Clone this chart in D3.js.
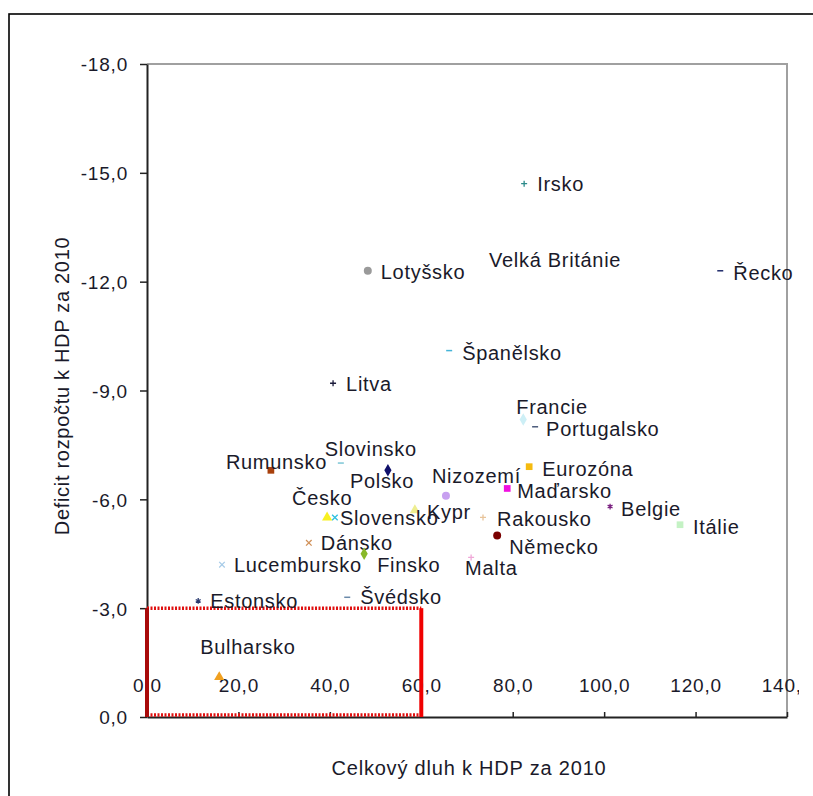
<!DOCTYPE html>
<html>
<head>
<meta charset="utf-8">
<script src="https://cdn.jsdelivr.net/npm/d3@7"></script>
<style>
  body { margin: 0; background: #fff; }
  text { font-family: "Liberation Sans", Arial, sans-serif; fill: #1a1a2a; }
</style>
</head>
<body>
<div id="chart"></div>
<script>
// countries, debt (x) and budget balance (y)
var countries = ["Irsko", "Velká Británie", "Řecko", "Lotyšsko", "Španělsko", "Litva",
  "Francie", "Portugalsko", "Eurozóna", "Maďarsko", "Nizozemí", "Belgie", "Itálie",
  "Kypr", "Rakousko", "Německo", "Malta", "Rumunsko", "Slovinsko", "Polsko", "Česko",
  "Slovensko", "Dánsko", "Finsko", "Lucembursko", "Estonsko", "Švédsko", "Bulharsko"];
var debt = [82.5, 72.2, 125.4, 48.3, 66.1, 40.7,
  82.3, 84.9, 83.6, 78.8, 65.4, 101.3, 116.6,
  58.6, 73.5, 76.6, 70.9, 27.1, 42.4, 52.7, 39.4,
  41.1, 35.4, 47.5, 16.4, 11.2, 43.8, 15.8];
var deficit = [-14.7, -12.6, -12.3, -12.3, -10.1, -9.2,
  -8.2, -8.0, -6.9, -6.3, -6.1, -5.8, -5.3,
  -5.7, -5.5, -5.0, -4.4, -6.8, -7.0, -6.8, -5.5,
  -5.5, -4.8, -4.5, -4.2, -3.2, -3.3, -1.1];

var xTicks = [0, 20, 40, 60, 80, 100, 120, 140];
var yTicks = [0, -3, -6, -9, -12, -15, -18];

// marker look for each country
var shapes = ["plus", "none", "dash", "circle", "dash", "plus",
  "diamond", "dash", "square", "square", "circle", "star", "square",
  "triangle", "plus", "circle", "plus", "square", "dash", "diamond", "triangle",
  "cross", "cross", "diamond", "cross", "star", "dash", "triangle"];
var colors = ["#2a8a8a", "#ffffff", "#1f2a6a", "#9a9a9a", "#45b4d8", "#1a1a3a",
  "#cdeff6", "#4a5a7a", "#f5bb10", "#f010e0", "#c8a0f0", "#7a2080", "#c4f2c4",
  "#eeee90", "#e8c49a", "#7a0000", "#f0a8d8", "#a8400c", "#7cc6d6", "#10106a", "#f8f020",
  "#30c0e0", "#d09058", "#88b828", "#a8cce8", "#2a3a70", "#6a8aaa", "#f0a020"];

// label offsets from the marker (px), default is to the right
var labelDx = [13, 12, 13, 13, 13, 13,
  -7, 11, 13, 10, -14, 11, 13,
  12, 14, 12, -6, -45, -16, -38, -35,
  5, 12, 13, 12, 12, 13, -19];
var labelDy = [0, 0, 2, 1, 2, 1,
  -13, 2, 2, 2, -20, 2, 2,
  2, 1, 11, 10, -9, -14, 11, -20,
  0, 0, 11, 0, 0, 0, -30];

var width = 813, height = 796;
var plotL = 147, plotR = 787, plotT = 64, plotB = 717;

var svg = d3.select("#chart").append("svg")
  .attr("width", width)
  .attr("height", height);

// outer frame, runs past the right and bottom edge
svg.append("rect")
  .attr("x", 9).attr("y", 14)
  .attr("width", 820).attr("height", 800)
  .attr("fill", "none").attr("stroke", "#000").attr("stroke-width", 1.6);

var xScale = d3.scaleLinear().domain([0, 140]).range([plotL, plotR]);
var yScale = d3.scaleLinear().domain([0, -18]).range([plotB, plotT]);

function fmt(v) { return v.toFixed(1).replace(".", ","); }

// plot area border (top and right)
svg.append("path")
  .attr("d", "M" + plotL + "," + plotT + "H" + plotR + "V" + plotB)
  .attr("fill", "none").attr("stroke", "#a0a0a0").attr("stroke-width", 2);

svg.append("defs").append("clipPath").attr("id", "xclip")
  .append("rect").attr("x", 0).attr("y", -100).attr("width", 799).attr("height", 200);

var yAxis = svg.append("g")
  .attr("transform", "translate(" + plotL + ",0)")
  .call(d3.axisLeft(yScale).tickValues(yTicks).tickFormat(fmt).tickSize(7).tickPadding(12).tickSizeOuter(0));

var xAxis = svg.append("g")
  .attr("transform", "translate(0," + plotB + ")")
  .attr("clip-path", "url(#xclip)")
  .call(d3.axisTop(xScale).tickValues(xTicks).tickFormat(fmt).tickSize(5).tickPadding(20).tickSizeOuter(0));

[xAxis, yAxis].forEach(function(ax) {
  ax.select(".domain").attr("stroke", "#222").attr("stroke-width", 2);
  ax.selectAll(".tick line").attr("stroke", "#222").attr("stroke-width", 1.5);
  ax.selectAll(".tick text")
    .style("font-size", "19px")
    .style("letter-spacing", "0.8px")
    .attr("fill", "#1a1a2a");
});
yAxis.selectAll(".tick text").attr("dy", "0.36em");

// red box marking the area under 60 % debt and 3 % deficit
var bx0 = xScale(0), bx1 = xScale(60), by0 = yScale(0), by1 = yScale(-3);
svg.append("path")
  .attr("d", "M" + bx0 + "," + by1 + "H" + bx1 + "M" + bx0 + "," + (by0 - 2) + "H" + bx1)
  .attr("stroke", "#e01010").attr("stroke-width", 3.5).attr("stroke-dasharray", "2,1.5").attr("fill", "none");
svg.append("line")
  .attr("x1", bx0).attr("x2", bx0).attr("y1", by1).attr("y2", by0)
  .attr("stroke", "#a80a0a").attr("stroke-width", 4);
svg.append("line")
  .attr("x1", bx1).attr("x2", bx1).attr("y1", by1).attr("y2", by0)
  .attr("stroke", "#f00000").attr("stroke-width", 4);

var symbolType = {
  circle: d3.symbolCircle, square: d3.symbolSquare, diamond: d3.symbolDiamond,
  triangle: d3.symbolTriangle, plus: d3.symbolCross, cross: d3.symbolX, star: d3.symbolAsterisk
};

var points = svg.selectAll("g.pt")
  .data(countries)
  .enter()
  .append("g")
  .attr("class", "pt")
  .attr("transform", function(d, i) {
    return "translate(" + xScale(debt[i]) + "," + yScale(deficit[i]) + ")";
  });

points.each(function(d, i) {
  var g = d3.select(this);
  var s = shapes[i];
  if (s === "none") return;
  if (s === "dash") {
    g.append("line").attr("x1", -3).attr("x2", 3)
      .attr("stroke", colors[i]).attr("stroke-width", 1.5);
  } else if (s === "plus") {
    g.append("path").attr("d", "M-3,0H3M0,-3V3")
      .attr("fill", "none").attr("stroke", colors[i]).attr("stroke-width", 1.3);
  } else if (s === "cross" || s === "star") {
    g.append("path")
      .attr("d", d3.symbol().type(symbolType[s]).size(22)())
      .attr("fill", "none").attr("stroke", colors[i]).attr("stroke-width", 1.3);
  } else {
    g.append("path")
      .attr("d", d3.symbol().type(symbolType[s]).size(s === "circle" ? 50 : 45)())
      .attr("fill", colors[i]);
  }
});

points.append("text")
  .attr("x", function(d, i) { return labelDx[i]; })
  .attr("y", function(d, i) { return labelDy[i]; })
  .attr("dy", "0.36em")
  .style("font-size", "20px")
  .style("letter-spacing", "0.7px")
  .text(function(d) { return d; });

// axis titles
svg.append("text")
  .attr("x", 469).attr("y", 768)
  .attr("dy", "0.36em")
  .attr("text-anchor", "middle")
  .style("font-size", "20px")
  .style("letter-spacing", "0.8px")
  .text("Celkový dluh k HDP za 2010");

svg.append("text")
  .attr("transform", "translate(62,386)rotate(-90)")
  .attr("dy", "0.36em")
  .attr("text-anchor", "middle")
  .style("font-size", "20px")
  .style("letter-spacing", "0.7px")
  .text("Deficit rozpočtu k HDP za 2010");
</script>
</body>
</html>
